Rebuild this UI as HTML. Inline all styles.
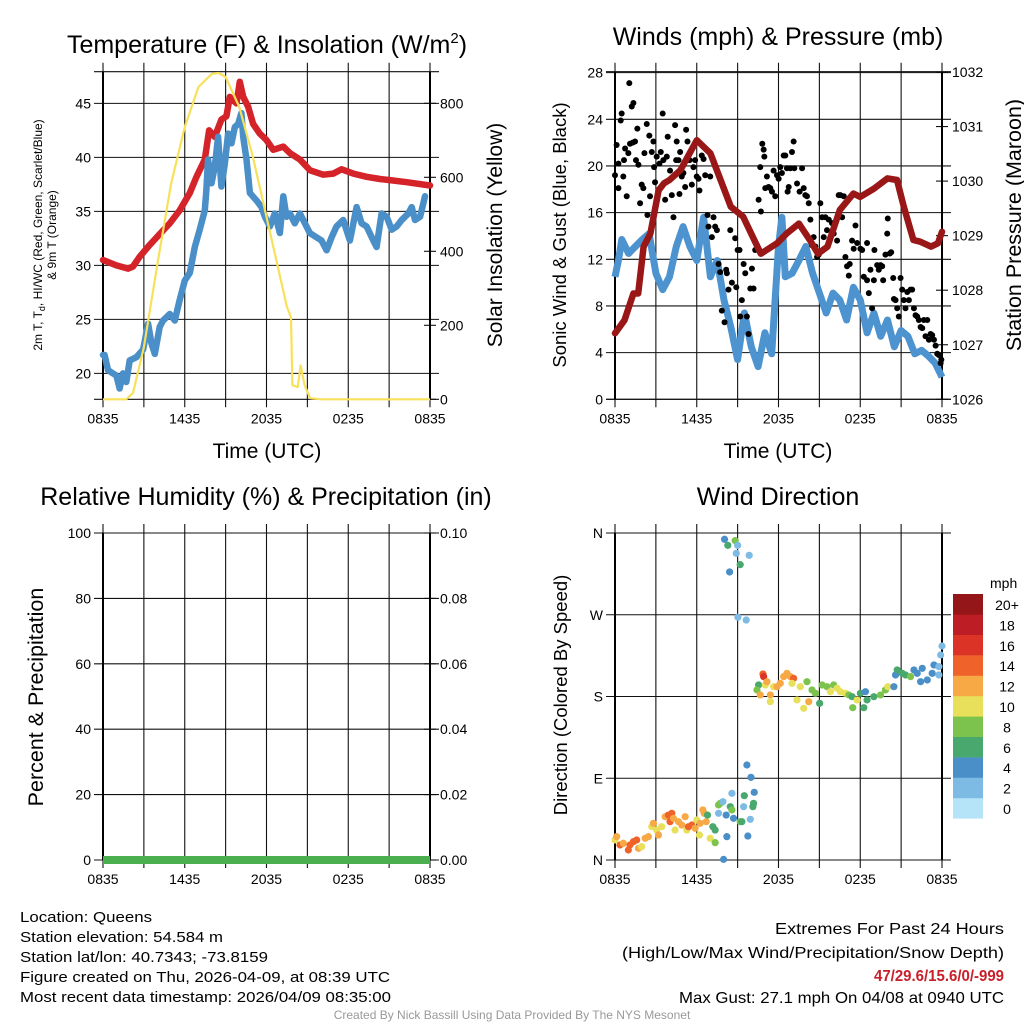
<!DOCTYPE html>
<html><head><meta charset="utf-8"><style>
html,body{margin:0;padding:0;background:#fff}
svg{display:block;font-family:"Liberation Sans",sans-serif}
</style></head><body>
<svg id="fig" width="1024" height="1024" viewBox="0 0 1024 1024" xmlns="http://www.w3.org/2000/svg">
<rect width="1024" height="1024" fill="#fff"/>
<g id="layer"></g>
<text x="267" y="53" font-size="25" text-anchor="middle">Temperature (F) &amp; Insolation (W/m<tspan font-size="15" dy="-10">2</tspan><tspan dy="10">)</tspan></text>
<text x="778" y="45" font-size="25" text-anchor="middle">Winds (mph) &amp; Pressure (mb)</text>
<text x="266" y="505" font-size="25" text-anchor="middle">Relative Humidity (%) &amp; Precipitation (in)</text>
<text x="778" y="505" font-size="25" text-anchor="middle">Wind Direction</text>
<text x="267" y="458" font-size="21" text-anchor="middle">Time (UTC)</text>
<text x="778" y="458" font-size="21" text-anchor="middle">Time (UTC)</text>
<text transform="translate(42,235) rotate(-90)" font-size="12" text-anchor="middle">2m T, T<tspan font-size="9" dy="3">d</tspan><tspan dy="-3">, HI/WC (Red, Green, Scarlet/Blue)</tspan></text>
<text transform="translate(56,235) rotate(-90)" font-size="12" text-anchor="middle">&amp; 9m T (Orange)</text>
<text transform="translate(502,235) rotate(-90)" font-size="21" text-anchor="middle">Solar Insolation (Yellow)</text>
<text transform="translate(566,235) rotate(-90)" font-size="18.5" text-anchor="middle">Sonic Wind &amp; Gust (Blue, Black)</text>
<text transform="translate(1021,225) rotate(-90)" font-size="21.5" text-anchor="middle">Station Pressure (Maroon)</text>
<text transform="translate(43,697) rotate(-90)" font-size="21.5" text-anchor="middle">Percent &amp; Precipitation</text>
<text transform="translate(567,695) rotate(-90)" font-size="18.5" text-anchor="middle">Direction (Colored By Speed)</text>
<text x="990" y="588" font-size="14">mph</text>
<g font-size="15">
<text x="20" y="922" textLength="132" lengthAdjust="spacingAndGlyphs">Location: Queens</text>
<text x="20" y="942" textLength="203" lengthAdjust="spacingAndGlyphs">Station elevation: 54.584 m</text>
<text x="20" y="962" textLength="248" lengthAdjust="spacingAndGlyphs">Station lat/lon: 40.7343; -73.8159</text>
<text x="20" y="982" textLength="370" lengthAdjust="spacingAndGlyphs">Figure created on Thu, 2026-04-09, at 08:39 UTC</text>
<text x="20" y="1002" textLength="371" lengthAdjust="spacingAndGlyphs">Most recent data timestamp: 2026/04/09 08:35:00</text>
</g>
<g font-size="16">
<text x="775" y="934" textLength="229" lengthAdjust="spacingAndGlyphs">Extremes For Past 24 Hours</text>
<text x="622" y="958" textLength="382" lengthAdjust="spacingAndGlyphs">(High/Low/Max Wind/Precipitation/Snow Depth)</text>
<text x="874" y="981" textLength="130" lengthAdjust="spacingAndGlyphs" fill="#c8202a" font-weight="bold">47/29.6/15.6/0/-999</text>
<text x="679" y="1003" textLength="325" lengthAdjust="spacingAndGlyphs">Max Gust: 27.1 mph On 04/08 at 0940 UTC</text>
</g>
<text x="512" y="1019" font-size="12" fill="#999" text-anchor="middle">Created By Nick Bassill Using Data Provided By The NYS Mesonet</text>
</svg>
<script>
// ---- data ----
const timeTicks = ["0835","1435","2035","0235","0835"];
const tempHours = [0,0.98,1.84,2.20,2.69,3.43,4.16,4.90,5.63,6.37,6.86,7.47,7.79,8.20,8.69,9.06,9.31,9.80,10.04,10.29,10.65,11.02,11.51,12.00,12.49,13.23,13.72,14.45,15.19,16.16,16.90,17.51,18.37,19.35,20.33,21.06,22.29,24.0];
const tempRed = [30.5,30.0,29.7,29.9,30.8,31.9,32.9,33.9,35.1,36.7,38.2,39.8,42.5,41.9,43.5,43.8,45.6,45.0,47.0,45.6,44.7,43.1,42.2,41.6,40.7,41.0,40.4,39.8,38.8,38.4,38.5,38.9,38.5,38.2,38.0,37.9,37.7,37.4];
const tempBlueHours = [0,0.12,0.37,0.73,0.98,1.22,1.47,1.71,1.96,2.45,2.94,3.31,3.55,3.80,4.16,4.41,4.90,5.27,5.63,6.00,6.37,6.74,7.10,7.47,7.59,7.71,7.96,8.20,8.45,8.69,8.94,9.18,9.43,9.67,9.92,10.16,10.29,10.53,10.78,11.27,11.63,11.88,12.25,12.61,12.98,13.23,13.47,13.72,14.08,14.45,14.82,15.18,15.67,16.04,16.41,16.78,17.14,17.63,18.12,18.61,18.98,19.35,19.84,20.08,20.45,20.82,21.19,21.55,21.92,22.41,22.66,22.90,23.27,23.63];
const tempBlue = [21.7,21.7,20.3,20.0,19.8,18.6,20.0,19.2,21.2,21.5,22.2,24.6,22.8,21.8,24.3,24.9,25.5,24.9,26.8,28.6,29.3,31.7,33.3,35.1,37.0,39.8,37.6,39.1,41.9,37.3,39.4,42.2,41.3,42.8,43.1,44.1,41.9,39.8,36.7,36.0,35.4,34.5,33.6,34.8,33.0,36.4,34.5,34.8,33.9,34.8,33.9,33.0,32.6,32.3,31.4,32.6,33.6,34.2,32.3,35.4,33.9,33.6,32.3,31.7,34.8,34.5,33.3,33.6,34.2,34.8,35.4,34.2,34.5,36.4];
const solarHours = [0,1.7,2.2,3,4,5,6,7,8,8.5,9,10,11,12,13,13.5,13.8,13.9,14.3,14.5,14.8,15.2,16,24];
const solar = [0,0,17,141,367,583,736,844,880,882,871,790,655,493,331,250,222,38,33,92,38,3,0,0];
const tempTicks = [20,25,30,35,40,45];
const solarTicks = [0,200,400,600,800];

const windHours = [0,0.25,0.5,1,1.5,2,2.5,3,3.5,4,4.5,5,5.5,6,6.5,7,7.5,8,8.5,9,9.5,10,10.5,11,11.5,12,12.25,12.5,13,13.5,14,14.5,15,15.5,16,16.5,17,17.5,18,18.5,19,19.5,20,20.5,21,21.5,22,22.5,23,23.5,24];
const windSpeed = [10.5,11.9,13.7,12.5,13.1,13.7,14.2,10.8,9.4,10.5,13.1,14.8,13.1,11.9,15.6,10.5,11.9,8.5,6.2,3.4,7.4,4.5,2.8,5.7,3.9,13.1,15.6,10.5,10.8,11.9,13.1,10.8,9.1,7.4,9.1,8.5,6.8,9.6,8.5,5.7,7.4,5.4,6.8,4.5,5.9,5.4,3.9,4.2,3.7,3.1,1.9];
const gustHours = [0.00,0.12,0.25,0.25,0.42,0.49,0.61,0.66,0.74,0.86,0.98,1.05,1.10,1.23,1.30,1.35,1.47,1.54,1.64,1.72,1.84,1.96,2.08,2.16,2.33,2.38,2.52,2.57,2.70,2.82,2.87,2.94,3.06,3.26,3.36,3.50,3.55,3.68,3.80,3.87,4.04,4.17,4.29,4.41,4.49,4.53,4.66,4.73,4.78,4.90,5.02,5.15,5.22,5.32,5.47,5.64,5.76,5.88,6.00,6.13,6.20,6.37,6.50,6.62,6.79,6.86,6.99,7.11,7.23,7.35,7.48,7.60,7.72,7.84,8.04,8.16,8.21,8.33,8.46,8.58,8.82,8.90,9.00,9.14,9.19,9.31,9.44,9.56,9.68,9.80,9.93,10.05,10.17,10.29,10.42,10.54,10.66,10.71,10.81,10.91,10.96,11.03,11.15,11.27,11.40,11.52,11.64,11.76,11.89,12.01,12.13,12.25,12.38,12.50,12.62,12.67,12.75,12.87,12.99,13.11,13.16,13.36,13.55,13.73,13.85,13.97,14.09,14.22,14.34,14.46,14.58,14.71,14.83,14.95,15.07,15.20,15.32,15.44,15.56,15.69,15.81,15.93,16.05,16.30,16.42,16.54,16.67,16.79,16.91,17.03,17.16,17.23,17.40,17.52,17.65,17.77,18.01,18.14,18.26,18.50,18.50,18.63,18.75,18.87,19.00,19.04,19.24,19.36,19.49,19.61,19.68,19.85,19.98,20.02,20.17,20.27,20.42,20.47,20.59,20.71,20.83,20.96,21.08,21.20,21.32,21.45,21.57,21.69,21.81,21.94,22.06,22.18,22.30,22.43,22.55,22.67,22.79,22.92,23.04,23.16,23.28,23.41,23.53,23.65,23.77,23.90,23.95];
const gustSpeed = [19.2,21.8,20.2,18.1,23.9,24.5,19.1,20.5,21.5,17.4,21.1,27.1,21.9,25.1,22.0,25.4,22.1,20.5,23.2,20.1,16.8,18.4,18.1,21.1,23.6,15.8,22.6,17.4,21.2,22.1,19.9,18.6,20.8,20.2,21.2,24.5,20.5,17.1,20.8,22.5,19.6,17.5,15.6,23.5,20.5,22.1,20.5,17.6,21.2,19.1,19.4,18.2,23.1,22.1,20.5,18.4,19.9,20.5,19.1,18.9,17.9,20.9,20.6,19.2,15.8,14.8,19.1,13.9,15.6,14.8,14.5,11.6,10.9,7.6,6.6,11.1,10.8,9.4,14.5,10.0,13.8,9.6,12.8,12.8,7.1,8.5,11.6,10.8,7.1,5.6,9.5,11.2,9.5,12.8,13.2,17.1,19.9,16.1,21.9,21.4,20.8,18.1,19.1,18.2,18.1,17.8,19.6,17.4,19.2,18.9,19.9,19.4,20.9,20.9,19.8,17.8,18.2,19.8,21.2,22.1,19.8,18.5,17.8,19.8,18.1,17.5,17.4,16.8,15.4,13.2,13.9,13.1,12.2,12.4,16.8,15.6,13.9,15.6,14.5,15.4,13.9,15.1,14.2,13.6,17.5,17.5,15.6,17.4,12.2,11.4,10.6,11.6,13.6,12.9,14.9,13.4,12.9,12.8,10.5,13.4,10.2,9.1,11.1,7.8,10.2,12.8,11.5,11.1,11.5,11.4,10.2,12.4,14.2,15.5,12.5,12.6,10.4,8.6,8.5,7.8,7.1,10.4,9.4,8.5,7.8,9.2,8.5,9.4,9.4,7.8,7.2,7.1,6.8,6.2,6.1,6.8,5.4,6.8,5.1,5.6,5.5,5.1,4.6,3.9,3.8,3.1,3.4];
const presHours = [0,0.7,1.35,1.7,2.1,2.6,3.2,3.6,4.0,4.8,6.0,7.0,8.5,9.4,10.7,11.9,12.6,13.5,14.3,14.9,15.6,16.5,17.5,18.0,19.0,20.0,20.7,21.2,21.9,22.4,23.2,23.7,24.0];
const pressure = [1027.21,1027.45,1027.94,1027.94,1028.80,1029.04,1029.83,1029.96,1030.02,1030.20,1030.75,1030.51,1029.53,1029.35,1028.67,1028.86,1029.04,1029.22,1028.92,1028.67,1028.80,1029.47,1029.77,1029.71,1029.86,1030.05,1030.02,1029.53,1028.92,1028.89,1028.80,1028.86,1029.07];
const windTicks = [0,4,8,12,16,20,24,28];
const presTicks = [1026,1027,1028,1029,1030,1031,1032];

const rhTicks = [0,20,40,60,80,100];
const precipTicks = ["0.00","0.02","0.04","0.06","0.08","0.10"];
const precipHours = [0,24];
const precip = [0,0];

const dirHours = [0.00,0.12,0.37,0.61,0.98,1.10,1.35,1.59,1.72,1.96,2.21,2.45,2.70,2.82,3.06,3.19,3.43,3.68,3.92,4.04,4.17,4.29,4.41,4.66,4.90,5.15,5.27,5.39,5.64,5.88,6.00,6.20,6.25,6.45,6.54,6.69,6.79,6.99,7.18,7.35,7.35,7.60,7.72,7.92,7.60,8.16,8.21,8.46,8.58,8.58,8.70,9.19,9.31,9.44,9.49,9.68,9.93,9.98,10.12,10.17,10.22,9.75,7.97,8.04,8.28,8.82,9.00,8.90,9.85,9.19,8.41,9.02,9.63,10.86,10.91,10.54,10.42,10.66,11.03,11.15,11.40,11.64,11.40,11.89,12.13,12.38,12.62,12.87,13.11,12.99,13.36,13.60,13.85,14.22,14.09,14.46,14.71,15.02,15.20,15.56,15.81,16.05,16.30,16.54,16.91,17.16,17.40,17.45,17.77,18.01,18.26,18.38,18.50,19.00,19.49,19.85,20.02,20.47,20.59,20.71,21.08,21.32,21.69,21.94,22.18,22.43,22.55,22.92,23.28,23.41,23.77,23.77,23.90,24.00];
const dirDeg = [22.0,25.7,16.5,18.4,11.0,16.5,20.2,22.0,12.8,14.7,23.9,25.7,36.7,40.4,33.0,27.5,36.7,47.7,49.5,42.2,51.4,45.9,33.0,42.2,38.5,47.7,33.0,36.7,38.5,34.9,44.0,27.5,40.4,55.1,51.4,42.2,49.5,23.9,36.7,33.0,19.1,60.6,62.4,64.2,51.4,49.5,25.7,58.7,55.1,73.4,45.9,42.2,42.2,58.7,70.8,104.6,44.8,91.0,58.7,62.4,74.5,26.4,0.7,353.1,346.4,351.6,346.4,337.6,335.4,325.2,317.1,267.2,264.2,204.8,201.9,192.7,187.2,181.7,192.7,196.3,181.7,190.8,174.3,190.8,194.5,201.9,205.5,201.9,200.0,194.5,176.2,190.8,167.0,174.3,196.3,187.2,183.5,172.5,192.7,190.8,185.3,192.7,189.0,185.3,183.5,181.7,179.8,167.7,176.2,183.5,167.7,185.3,176.2,179.8,181.7,187.2,190.8,190.8,203.7,209.2,205.5,203.7,201.9,209.2,205.5,196.3,211.0,198.2,205.5,214.7,212.9,203.7,225.7,235.6];
const dirSpeed = [11,13,15,13,15,15,15,15,13,11,13,13,11,13,11,13,11,13,15,15,15,13,11,13,13,13,11,15,15,13,11,11,13,13,13,13,7,11,7,7,9,9,9,3,3,5,5,7,9,3,5,9,7,3,7,5,3,5,7,7,5,5,5,5,7,9,3,3,3,7,5,3,3,15,16,7,9,13,11,13,13,11,11,13,13,13,13,13,15,11,11,11,11,13,9,9,9,7,9,9,11,9,11,11,11,9,7,9,11,7,7,5,7,7,9,9,11,5,5,7,7,7,9,5,5,5,5,5,5,5,3,3,3,3];
const dirTickLabels = ["N","E","S","W","N"];
const speedBins = ["0","2","4","6","8","10","12","14","16","18","20+"];
const speedColors = ["#b5e3f8","#7dbbe5","#4a8fc8","#49a86d","#7cc34d","#e8e05b","#f6a945","#ef6229","#dc3327","#bd1d24","#941618"];

// ---- drawing ----
const NS="http://www.w3.org/2000/svg";
const layer=document.getElementById('layer');
function mk(tag,attrs,parent){const e=document.createElementNS(NS,tag);for(const k in attrs)e.setAttribute(k,attrs[k]);(parent||layer).appendChild(e);return e;}
function txt(s,x,y,anchor,size,parent){const t=mk('text',{x:x,y:y,'text-anchor':anchor,'font-size':size},parent);t.textContent=s;return t;}

function panel(name,L,R,T,B,leftVals,leftFn,leftLabels,rightVals,rightFn,rightLabels){
  const g=mk('g',{});
  
  
  for(let i=0;i<=8;i++){const x=L+(R-L)*i/8;mk('line',{x1:x,x2:x,y1:T-9,y2:B+8,stroke:'#111','stroke-width':1.1},g);}
  leftVals.forEach((v,i)=>{const y=leftFn(v);mk('line',{x1:L-9,x2:R+9,y1:y,y2:y,stroke:'#111','stroke-width':1.1},g);txt(leftLabels[i],L-12,y+5,'end',14,g);});
  mk('line',{x1:L-9,x2:R+9,y1:T,y2:T,stroke:'#111','stroke-width':1.1},g);
  mk('line',{x1:L-9,x2:R+9,y1:B,y2:B,stroke:'#111','stroke-width':1.1},g);
  rightVals.forEach((v,i)=>{const y=rightFn(v);mk('line',{x1:R-6,x2:R+6,y1:y,y2:y,stroke:'#111','stroke-width':1.1},g);if(rightLabels)txt(rightLabels[i],R+10,y+5,'start',14,g);});
  mk('line',{x1:L,x2:L,y1:T,y2:B,stroke:'#000','stroke-width':2},g);
  mk('line',{x1:R,x2:R,y1:T,y2:B,stroke:'#000','stroke-width':2},g);
  timeTicks.forEach((s,i)=>{txt(s,L+(R-L)*i/4,B+24,'middle',14,g);});
  return g;
}
function path(pts){return pts.map((p,i)=>(i?'L':'M')+p[0].toFixed(1)+','+p[1].toFixed(1)).join('');}

// Panel 1: temperature
const xT=h=>103+h*327/24;
const yT=v=>399.3-(v-17.6)*10.8;
const yS=v=>399.3-v*0.37;
panel('temperature',103,430,71.7,399.3,tempTicks,yT,tempTicks.map(String),solarTicks,yS,solarTicks.map(String));
let e=mk('path',{d:path(tempRed.map((v,i)=>[xT(tempHours[i]),yT(v)])),fill:'none',stroke:'#d5232a','stroke-width':6.5,'stroke-linejoin':'round','stroke-linecap':'round'});


e=mk('path',{d:path(tempBlue.map((v,i)=>[xT(tempBlueHours[i]),yT(v)])),fill:'none',stroke:'#4a8fc7','stroke-width':6.5,'stroke-linejoin':'round','stroke-linecap':'round'});


e=mk('path',{d:path(solar.map((v,i)=>[xT(solarHours[i]),yS(v)])),fill:'none',stroke:'#f8e15a','stroke-width':2.2,'stroke-linejoin':'round'});



// Panel 2: winds
const xW=h=>615+h*327/24;
const yW=v=>399.3-v*11.667;
const yP=p=>399.3-(p-1026)*54.55;
panel('winds',615,942,71.7,399.3,windTicks,yW,windTicks.map(String),presTicks,yP,presTicks.map(String));
e=mk('path',{d:path(windSpeed.map((v,i)=>[xW(windHours[i]),yW(v)])),fill:'none',stroke:'#4c93cf','stroke-width':7,'stroke-linejoin':'round'});


gustSpeed.forEach((v,i)=>{
  const c=mk('circle',{cx:xW(gustHours[i]),cy:yW(v),r:3,fill:'#000'});
  
  
});
e=mk('path',{d:path(pressure.map((v,i)=>[xW(presHours[i]),yP(v)])),fill:'none',stroke:'#9a1717','stroke-width':6.5,'stroke-linejoin':'round','stroke-linecap':'round'});



// Panel 3: RH & precip
const yR=v=>860-v*3.27;
panel('humidity',103,430,533,860,rhTicks,yR,rhTicks.map(String),rhTicks,yR,precipTicks);
e=mk('path',{d:path(precip.map((v,i)=>[xT(precipHours[i]),yR(v*1000)])),fill:'none',stroke:'#4caf4f','stroke-width':8});



// Panel 4: wind direction
const yD=d=>860-d*327/360;
panel('wind-direction',615,942,533,860,[0,90,180,270,360],yD,dirTickLabels,[],yD,null);
function binColor(s){let b=Math.floor(s/2);if(b>10)b=10;return speedColors[b];}
dirDeg.forEach((d,i)=>{
  const c=mk('circle',{cx:xW(dirHours[i]),cy:yD(d),r:3.6,fill:binColor(dirSpeed[i])});
  
  
});
const cb=mk('g',{});


for(let i=0;i<11;i++){
  const top=594+(10-i)*20.4;
  mk('rect',{x:953,y:top,width:30,height:20.6,fill:speedColors[i]},cb);
  txt(speedBins[i],1007,top+16,'middle',14,cb);
}
</script>
</body></html>
